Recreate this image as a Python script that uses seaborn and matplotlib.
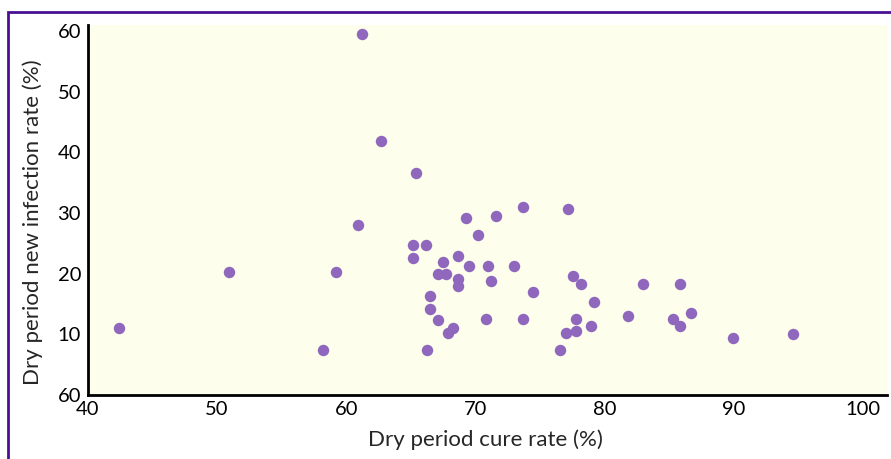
import matplotlib
matplotlib.use("Agg")
import matplotlib.pyplot as plt
import seaborn as sns
import pandas as pd
from matplotlib.patches import Rectangle

# cure rate (%) and new infection rate (%) per herd
cure_rate = [42.4, 50.9, 61.2, 62.7, 65.4, 60.9, 69.3, 71.6, 73.7, 77.2,
             70.2, 65.2, 66.2, 65.2, 67.5, 68.7, 59.2, 67.1, 67.7, 69.5,
             71.0, 73.0, 68.7, 71.2, 68.7, 77.6, 78.2, 74.5, 79.2, 66.5,
             66.5, 67.1, 70.8, 73.7, 77.8, 68.3, 67.9, 79.0, 77.0, 77.8,
             58.2, 66.3, 76.6, 83.0, 85.9, 81.8, 85.3, 86.7, 85.9, 90.0,
             94.6]
infection_rate = [11.0, 20.2, 59.5, 41.8, 36.6, 28.1, 29.1, 29.5, 31.0, 30.6,
                  26.4, 24.7, 24.7, 22.6, 22.0, 22.9, 20.2, 20.0, 20.0, 21.2,
                  21.2, 21.2, 19.2, 18.8, 17.9, 19.7, 18.3, 17.0, 15.3, 16.4,
                  14.2, 12.4, 12.6, 12.6, 12.6, 11.1, 10.2, 11.3, 10.2, 10.6,
                  7.4, 7.4, 7.4, 18.3, 18.3, 13.1, 12.6, 13.5, 11.3, 9.4,
                  10.1]

x_ticks = [40, 50, 60, 70, 80, 90, 100]
y_ticks = [0, 10, 20, 30, 40, 50, 60]
y_tick_labels = ['60', '10', '20', '30', '40', '50', '60']

df = pd.DataFrame({'cure': cure_rate, 'infection': infection_rate})

sns.set_style('white')
plt.rcParams['font.family'] = ['Lato', 'DejaVu Sans']

fig = plt.figure(figsize=(8.91, 4.59), dpi=100)
ax = fig.add_axes([88 / 891, 64 / 459, 799 / 891, 370 / 459])
ax.set_facecolor('#fdffec')

sns.scatterplot(data=df, x='cure', y='infection', color='#8f67bd',
                s=68, linewidth=0, ax=ax)

ax.set_xlim(40, 101.9)
ax.set_ylim(0, 61)
ax.set_xticks(x_ticks)
ax.set_yticks(y_ticks)
ax.set_yticklabels(y_tick_labels)
ax.tick_params(axis='both', length=0, labelsize=14.5, colors='black')
ax.tick_params(axis='x', pad=4)
ax.tick_params(axis='y', pad=5)

for side in ['top', 'right']:
    ax.spines[side].set_visible(False)
for side in ['left', 'bottom']:
    ax.spines[side].set_color('black')
    ax.spines[side].set_linewidth(2)

ax.set_xlabel('Dry period cure rate (%)', fontsize=16)
ax.set_ylabel('Dry period new infection rate (%)', fontsize=16)
ax.xaxis.set_label_coords(0.497, -0.092)
ax.yaxis.set_label_coords(-0.056, 0.468)

# purple frame around the figure (only top and left edges are visible)
fig.add_artist(Rectangle((8 / 891, -0.2), 1.2, 1.2 - 12 / 459,
                         transform=fig.transFigure, fill=False,
                         edgecolor='#4a1094', linewidth=2))

fig.savefig('out.png', dpi=100)
